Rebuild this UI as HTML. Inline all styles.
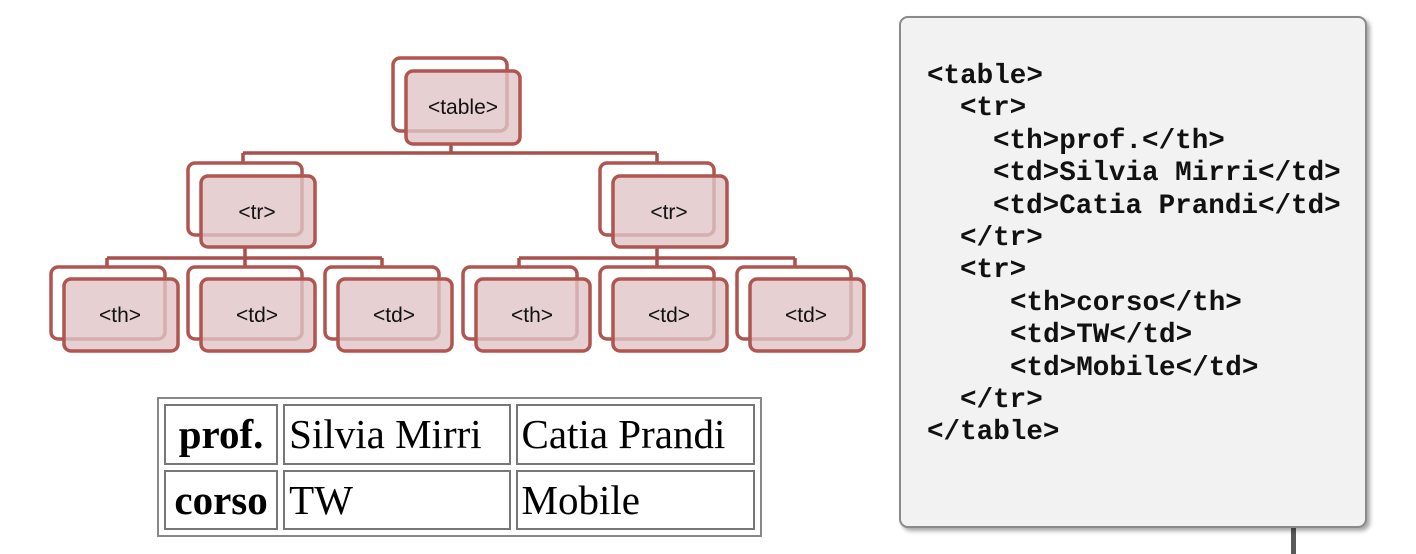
<!DOCTYPE html>
<html><head><meta charset="utf-8"><style>
html,body{margin:0;padding:0;background:#fff;}
body{width:1416px;height:554px;position:relative;overflow:hidden;}
svg{position:absolute;left:0;top:0;}
.code{position:absolute;left:899px;top:16px;width:464px;height:508px;background:#f2f2f2;border:2px solid #8a8a8a;border-radius:9px;box-shadow:3px 3px 4px rgba(0,0,0,0.35);}
.ln{position:absolute;font-family:"Liberation Mono",monospace;font-weight:bold;font-size:27.6px;color:#111;white-space:pre;line-height:1;}
table.t{position:absolute;left:157px;top:397px;width:605px;height:140px;table-layout:fixed;border:2px solid #888;border-collapse:separate;border-spacing:5px;font-family:"Liberation Serif",serif;font-size:41px;box-sizing:border-box;}
table.t td,table.t th{box-sizing:border-box;border:2px solid #777;padding:0 4px;height:60px;line-height:54px;text-align:left;overflow:hidden;white-space:nowrap;}
table.t th{font-weight:bold;text-align:center;padding:0 1px;}
</style></head><body>
<svg width="1416" height="554" viewBox="0 0 1416 554">
<g stroke="#a8504b" stroke-width="3.5" fill="none">
<path d="M451 143V153M243 153H657M243 153V165M657 153V165"/>
<path d="M245 247V258M107 258H382M107 258V268M245 258V268M382 258V268"/>
<path d="M657 247V258M519 258H795M519 258V268M657 258V268M795 258V268"/>
</g>
<g font-family="Liberation Sans, sans-serif" font-size="21" text-anchor="middle" fill="#111">
<g stroke="#b0554f" stroke-width="3.5">
<rect x="393" y="58" width="114" height="73" rx="7" fill="#fff"/>
<rect x="406" y="71" width="114" height="73" rx="7" fill="#e0c4c5" fill-opacity="0.8"/>
<rect x="188" y="163" width="114" height="72" rx="7" fill="#fff"/>
<rect x="201" y="176" width="114" height="71" rx="7" fill="#e0c4c5" fill-opacity="0.8"/>
<rect x="600" y="163" width="114" height="72" rx="7" fill="#fff"/>
<rect x="613" y="176" width="114" height="71" rx="7" fill="#e0c4c5" fill-opacity="0.8"/>
<rect x="51" y="267" width="114" height="72" rx="7" fill="#fff"/>
<rect x="64" y="279" width="114" height="72" rx="7" fill="#e0c4c5" fill-opacity="0.8"/>
<rect x="188" y="267" width="114" height="72" rx="7" fill="#fff"/>
<rect x="201" y="279" width="114" height="72" rx="7" fill="#e0c4c5" fill-opacity="0.8"/>
<rect x="325" y="267" width="114" height="72" rx="7" fill="#fff"/>
<rect x="338" y="279" width="114" height="72" rx="7" fill="#e0c4c5" fill-opacity="0.8"/>
<rect x="463" y="267" width="114" height="72" rx="7" fill="#fff"/>
<rect x="476" y="279" width="114" height="72" rx="7" fill="#e0c4c5" fill-opacity="0.8"/>
<rect x="600" y="267" width="114" height="72" rx="7" fill="#fff"/>
<rect x="613" y="279" width="114" height="72" rx="7" fill="#e0c4c5" fill-opacity="0.8"/>
<rect x="737" y="267" width="114" height="72" rx="7" fill="#fff"/>
<rect x="750" y="279" width="114" height="72" rx="7" fill="#e0c4c5" fill-opacity="0.8"/>
</g>
<text x="463" y="114">&lt;table&gt;</text>
<text x="257" y="219">&lt;tr&gt;</text>
<text x="669" y="219">&lt;tr&gt;</text>
<text x="120" y="322">&lt;th&gt;</text>
<text x="257" y="322">&lt;td&gt;</text>
<text x="394" y="322">&lt;td&gt;</text>
<text x="532" y="322">&lt;th&gt;</text>
<text x="669" y="322">&lt;td&gt;</text>
<text x="806" y="322">&lt;td&gt;</text>
</g>
<rect x="1291" y="526" width="5" height="28" fill="#5a5a5a"/>
</svg>
<table class="t">
<colgroup><col style="width:113px"><col style="width:225px"><col style="width:237px"></colgroup>
<tr><th>prof.</th><td>Silvia Mirri</td><td>Catia Prandi</td></tr>
<tr><th>corso</th><td>TW</td><td>Mobile</td></tr>
</table>
<div class="code"></div>
<div class="ln" style="left:927px;top:63px">&lt;table&gt;</div>
<div class="ln" style="left:960px;top:95px">&lt;tr&gt;</div>
<div class="ln" style="left:993px;top:128px">&lt;th&gt;prof.&lt;/th&gt;</div>
<div class="ln" style="left:993px;top:160px">&lt;td&gt;Silvia Mirri&lt;/td&gt;</div>
<div class="ln" style="left:993px;top:193px">&lt;td&gt;Catia Prandi&lt;/td&gt;</div>
<div class="ln" style="left:960px;top:225px">&lt;/tr&gt;</div>
<div class="ln" style="left:960px;top:257px">&lt;tr&gt;</div>
<div class="ln" style="left:1010px;top:290px">&lt;th&gt;corso&lt;/th&gt;</div>
<div class="ln" style="left:1010px;top:322px">&lt;td&gt;TW&lt;/td&gt;</div>
<div class="ln" style="left:1010px;top:355px">&lt;td&gt;Mobile&lt;/td&gt;</div>
<div class="ln" style="left:960px;top:387px">&lt;/tr&gt;</div>
<div class="ln" style="left:927px;top:419px">&lt;/table&gt;</div>
</body></html>
